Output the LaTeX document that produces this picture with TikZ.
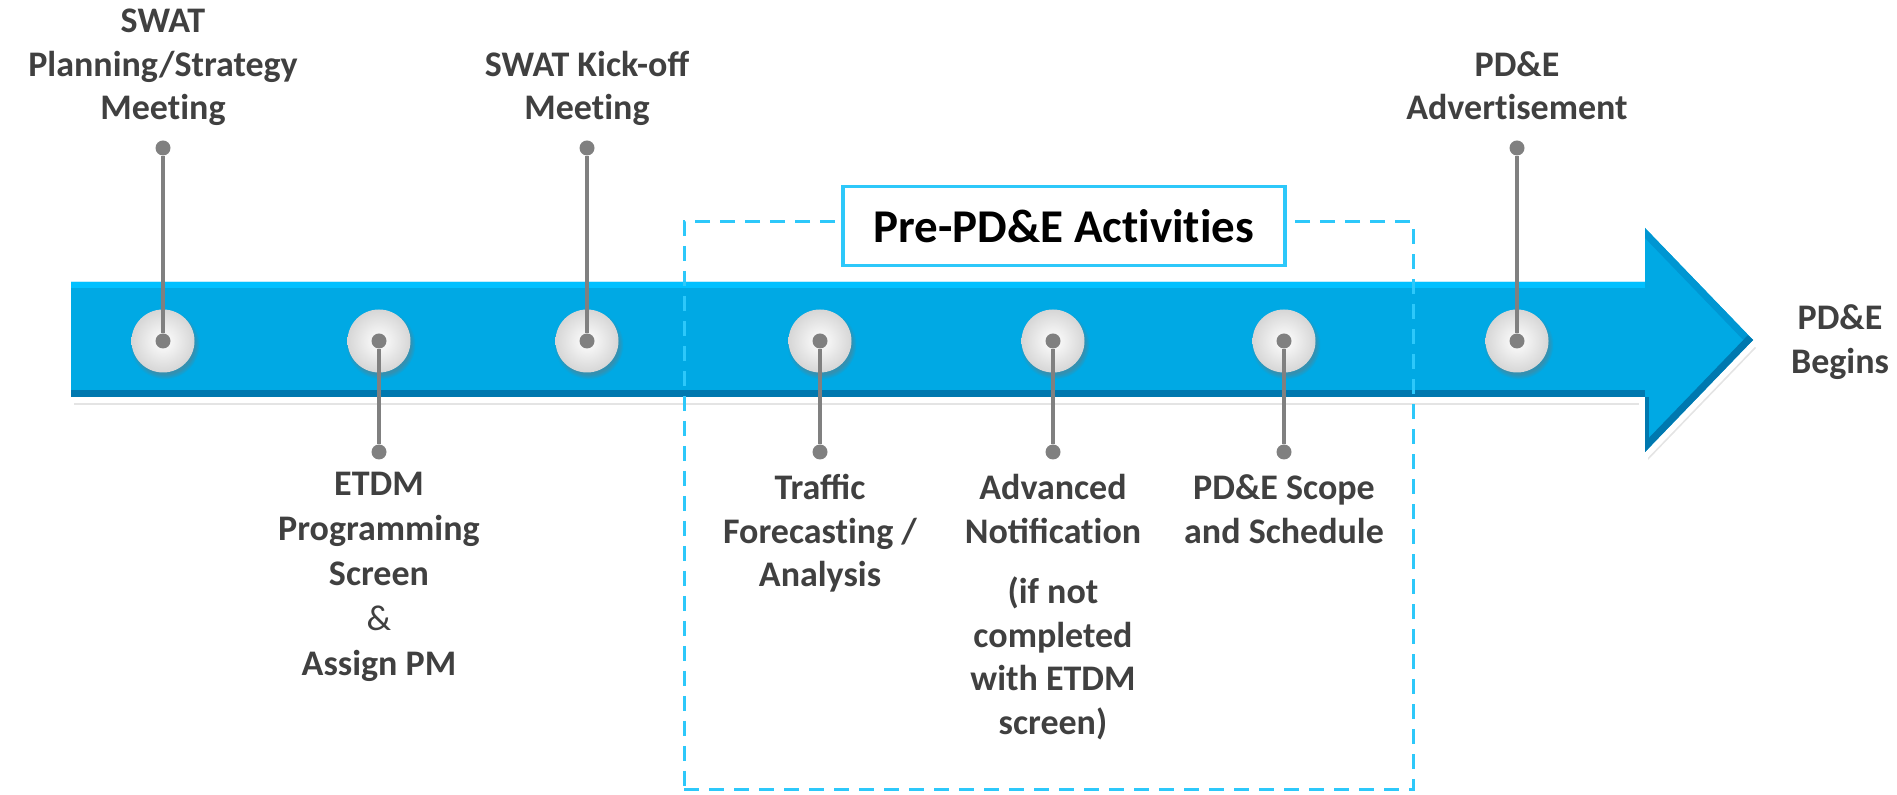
\documentclass[tikz,border=0pt]{standalone}
\usepackage{fontspec}
\setmainfont{Carlito}
\usetikzlibrary{shadows}
\definecolor{bluemain}{RGB}{0,169,228}
\definecolor{bluelight}{RGB}{0,192,255}
\definecolor{bluedark}{RGB}{0,120,175}
\definecolor{blueedge}{RGB}{0,150,210}
\definecolor{cyanc}{RGB}{45,200,250}
\definecolor{pingray}{RGB}{128,128,128}
\definecolor{txt}{RGB}{64,64,64}
\newcommand\lbltop[1]{\begin{tabular}[b]{@{}c@{}}#1\end{tabular}}
\newcommand\lblbot[1]{\begin{tabular}[t]{@{}c@{}}#1\end{tabular}}
\newcommand\tiNL{t\kern0pt i}
\tikzset{
  lbl/.style={text=txt, font=\fontsize{18}{21.75}\selectfont\bfseries, inner sep=0pt, anchor=base},
  pindot/.style={circle, fill=pingray, inner sep=0pt, minimum size=7.5pt},
  pinline/.style={draw=pingray, line width=1.9pt},
  knob/.style={circle, minimum size=31.5pt, inner sep=0pt, shading=radial, inner color=white, outer color=black!16,
    circular drop shadow={shadow xshift=0.8pt, shadow yshift=-1.6pt, opacity=0.45, fill=black!55}},
  titlebox/.style={draw=cyanc, line width=1.6pt, fill=white, minimum width=221pt, minimum height=39.5pt, inner sep=0pt,
    font=\fontsize{23.5}{28}\selectfont\bfseries, text=black,
    drop shadow={shadow xshift=1pt, shadow yshift=-1pt, opacity=0.25}},
  dashbox/.style={draw=cyanc, line width=1.5pt, dash pattern=on 7.5pt off 5pt, minimum width=364.5pt, minimum height=284pt, inner sep=0pt}
}
\def\arrowpath{(71,282) -- (1645,282) -- (1645,228) -- (1753,340) -- (1645,452) -- (1645,397) -- (71,397) -- cycle}
\begin{document}
\begin{tikzpicture}[x=0.5pt,y=-0.5pt]
\useasboundingbox (0,0) rectangle (1897,795);
% arrow
\fill[black!30, opacity=0.35, shift={(3,8)}] \arrowpath;
\fill[black!20, opacity=0.3, shift={(1,4)}] \arrowpath;
\draw[white, line width=6pt, line join=miter] \arrowpath;
\fill[bluemain] \arrowpath;
\begin{scope}
  \clip \arrowpath;
  \draw[bluelight, line width=6pt] (60,282) -- (1645,282);
  \draw[bluedark, line width=7pt] (60,397) -- (1645,397);
  \draw[blueedge, line width=7pt] (1645,228) -- (1753,340);
  \draw[bluedark, line width=7pt] (1753,340) -- (1645,452);
  \draw[bluedark, line width=4pt] (1645,452) -- (1645,397);
\end{scope}
% knobs
\foreach \n/\x in {1/163,2/379,3/587,4/820,5/1053,6/1284,7/1517}{
  \node[knob] (c\n) at (\x,341) {};
  \node[pindot] (d\n) at (\x,341) {};
}
% dashed group
\node[dashbox] (pre) at (1048.5,506) {};
\node[titlebox] (title) at (1064,226) {Pre-PD\&E Ac\tiNL vi\tiNL es};
% pins
\node[pindot] (t1) at (163,148) {};
\node[pindot] (t3) at (587,148) {};
\node[pindot] (t7) at (1517,148) {};
\node[pindot] (b2) at (379,452) {};
\node[pindot] (b4) at (820,452) {};
\node[pindot] (b5) at (1053,452) {};
\node[pindot] (b6) at (1284,452) {};
\draw[pinline] (t1) -- (d1);
\draw[pinline] (t3) -- (d3);
\draw[pinline] (t7) -- (d7);
\draw[pinline] (d2) -- (b2);
\draw[pinline] (d4) -- (b4);
\draw[pinline] (d5) -- (b5);
\draw[pinline] (d6) -- (b6);
% labels
\node[lbl] (l1) at (163,120) {\lbltop{SWAT\\Planning/Strategy\\Mee\tiNL ng}};
\node[lbl] (l3) at (587,120) {\lbltop{SWAT Kick-off\\Mee\tiNL ng}};
\node[lbl] (l7) at (1517,120) {\lbltop{PD\&E\\Adver\tiNL sement}};
\node[lbl] (l2) at (379,496) {\renewcommand\arraystretch{1.03}\lblbot{ETDM\\Programming\\Screen\\{\mdseries\&}\\Assign PM}};
\node[lbl] (l4) at (820,500) {\lblbot{Traffic\\Forecas\tiNL ng /\\Analysis}};
\node[lbl] (l5) at (1053,500) {\lblbot{Advanced\\Notifica\tiNL on\\[8.5pt](if not\\completed\\with ETDM\\screen)}};
\node[lbl] (l6) at (1284,500) {\lblbot{PD\&E Scope\\and Schedule}};
\node[lbl] (end) at (1840,330) {\lblbot{PD\&E\\Begins}};
\end{tikzpicture}
\end{document}
